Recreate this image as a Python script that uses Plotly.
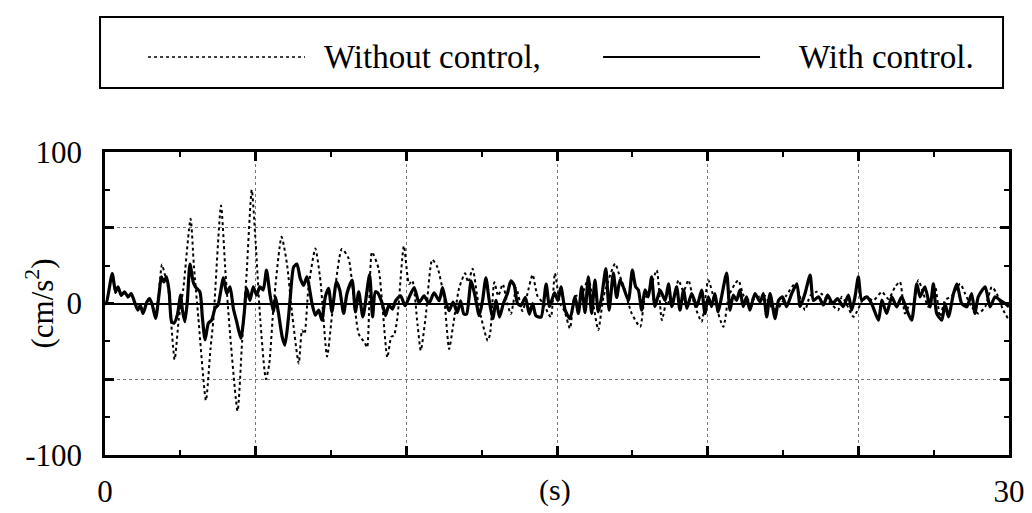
import plotly.graph_objects as go

# Floor acceleration response (cm/s^2) against time (s)
t_without = [0.0, 0.04, 0.24, 0.35, 0.43, 0.54, 0.65, 0.76, 0.87, 0.98, 1.09, 1.17, 1.26, 1.39, 1.48,
             1.57, 1.68, 1.79, 1.89, 2.0, 2.10, 2.31, 2.45, 2.60, 2.84, 2.95, 3.10, 3.35, 3.50, 3.60,
             3.85, 4.0, 4.15, 4.40, 4.55, 4.70, 4.87, 5.0, 5.15, 5.34, 5.45, 5.60, 5.86, 6.04, 6.20,
             6.43, 6.54, 6.62, 6.75, 6.98, 7.15, 7.37, 7.55, 7.86, 8.08, 8.22, 8.42, 8.62, 8.70, 8.86,
             9.08, 9.20, 9.37, 9.50, 9.59, 9.70, 9.92, 10.09, 10.20, 10.37, 10.48, 10.64, 10.86, 11.03,
             11.25, 11.42, 11.55, 11.75, 11.95, 12.05, 12.20, 12.35, 12.48, 12.70, 12.78, 12.92, 13.05,
             13.20, 13.35, 13.47, 13.65, 13.85, 14.0, 14.19, 14.35, 14.55, 14.71, 14.80, 14.93, 15.10,
             15.25, 15.43, 15.60, 15.80, 16.04, 16.20, 16.37, 16.55, 16.93, 17.05, 17.20, 17.48, 17.76,
             17.90, 18.10, 18.31, 18.48, 18.65, 18.80, 19.03, 19.20, 19.36, 19.55, 19.80, 20.02, 20.25,
             20.52, 20.70, 20.91, 21.02, 21.20, 21.40, 21.70, 21.90, 22.10, 22.30, 22.60, 22.90, 23.05,
             23.23, 23.40, 23.62, 23.80, 24.0, 24.33, 24.45, 24.60, 24.84, 25.22, 25.50, 25.78, 26.0,
             26.22, 26.38, 26.55, 26.72, 26.82, 26.99, 27.33, 27.55, 27.71, 27.88, 28.10, 28.38, 28.54,
             28.76, 28.98, 29.21, 29.43, 29.59, 29.81, 30.0]
a_without = [0, 0, 19, 7, 10, 5, 7, 4, 6, 1, -4, -1, -6, 1, 3,
             -1, -9, 8, 25.7, 18, 10, -37, -10, 10, 56, 25, -10, -64, -30, -10,
             64.7, 20, -20, -71, -25, 20, 75, 40, -10, -50, -40, 0, 44, 26, -5,
             -39.6, -17.6, -20, 10, 36.3, 15, -35, -5, 36, 30, 10, -20, -26, -29, 34,
             23, 0, -35.6, -22, -21, -10, 38, 12.8, 15, -13.6, -31, -9, 29, 24,
             4, -30, -15, 10, 20, 14, 23, 5, -9, -24.6, -20, 14, 5,
             12.8, 0, -7, 10, -5, 5, 19, 5, 0, -6.6, -9, 20, 0,
             -5, -16.5, 5, 5, 16.5, 0, -17.6, 5, 26.4, 20, 12, -6.6, -15.4,
             2, 10, 22, -11, 2, -2, 15.4, 8, 15.4, 0, -12, 15.4, 0,
             -15.4, 5, 13, 15.4, 5, 2, 4.4, 5, -2, -4, 5, 13, 5,
             -4.4, 5, 7.7, 6, 2, -4.4, 4.4, 0, -8.8, 4.4, 2, 7.7, 3,
             11, 14.3, -6.6, 0, -2.2, 15.4, -2.2, 11, -8.8, 2.2, 5, 13, 6.6,
             -2.2, -6.6, -2.2, 11, 6.6, -4.4, -11]

t_with = [0.0, 0.04, 0.24, 0.35, 0.43, 0.54, 0.65, 0.76, 0.87, 0.98, 1.09, 1.17, 1.26, 1.39, 1.48,
          1.57, 1.68, 1.79, 1.87, 1.95, 2.04, 2.13, 2.21, 2.29, 2.40, 2.51, 2.57, 2.65, 2.73, 2.82,
          2.93, 3.0, 3.15, 3.23, 3.32, 3.43, 3.54, 3.65, 3.75, 3.93, 4.04, 4.15, 4.26, 4.37, 4.51,
          4.62, 4.70, 4.81, 4.92, 5.03, 5.14, 5.25, 5.36, 5.47, 5.59, 5.66, 5.75, 5.88, 5.97, 6.08,
          6.14, 6.26, 6.37, 6.48, 6.59, 6.70, 6.87, 6.98, 7.09, 7.20, 7.31, 7.42, 7.53, 7.68, 7.79,
          7.92, 8.03, 8.20, 8.31, 8.42, 8.56, 8.78, 8.88, 8.97, 9.05, 9.20, 9.31, 9.42, 9.54, 9.65,
          9.81, 9.96, 10.09, 10.26, 10.42, 10.59, 10.75, 10.92, 11.09, 11.20, 11.31, 11.42, 11.55,
          11.69, 11.80, 11.91, 12.0, 12.15, 12.28, 12.42, 12.53, 12.64, 12.75, 12.87, 12.98, 13.09,
          13.22, 13.36, 13.47, 13.58, 13.69, 13.80, 13.95, 14.08, 14.19, 14.30, 14.47, 14.64, 14.75,
          14.92, 15.03, 15.13, 15.27, 15.43, 15.60, 15.71, 15.82, 15.93, 16.04, 16.15, 16.26, 16.37,
          16.48, 16.62, 16.73, 16.87, 16.98, 17.09, 17.20, 17.37, 17.50, 17.61, 17.70, 17.81, 17.92,
          18.03, 18.14, 18.25, 18.42, 18.59, 18.70, 18.81, 18.97, 19.08, 19.20, 19.31, 19.47, 19.64,
          19.80, 19.91, 20.02, 20.13, 20.24, 20.35, 20.46, 20.63, 20.74, 20.85, 20.96, 21.07, 21.18,
          21.29, 21.40, 21.57, 21.74, 21.85, 21.96, 22.07, 22.24, 22.35, 22.48, 22.62, 22.79, 22.96,
          23.07, 23.23, 23.40, 23.51, 23.68, 23.84, 23.98, 24.15, 24.31, 24.50, 24.67, 24.78, 24.89,
          25.0, 25.11, 25.28, 25.44, 25.67, 25.78, 25.94, 26.11, 26.27, 26.44, 26.61, 26.77, 26.94,
          27.05, 27.21, 27.38, 27.49, 27.60, 27.77, 27.88, 27.99, 28.16, 28.27, 28.43, 28.60, 28.76,
          28.87, 28.98, 29.21, 29.37, 29.54, 29.70, 29.87, 30.0]
a_with = [0, 0, 19.8, 7.7, 11, 5.5, 7.7, 4.4, 6.6, 1, -4.4, -1, -6.6, 1, 3.3,
          -1, -9.9, 5.5, 17.6, 14.3, 17.6, 7.7, -12, -13, -7.7, 5.5, -4.4, -12, 1, 26,
          14, 11, 7.7, -8.8, -24, -13, -11, -3.3, -1, 17, 6.6, 11, -3.3, -12, -23,
          -6.6, 10, 2, 11, 5.5, 11, 9, 22, 6.6, -5.5, 4.4, -5.5, -22, -27.5, -11,
          2, 24, 26, 16.5, 12, 17.6, 0, -7.7, -4.4, -11, 4.4, 10, -5.5, 14.3, 9,
          -6.6, 6.6, 15.4, -5.5, 7.7, -8.8, 19, -8.8, 7.7, 7, 0, -8, -1, -3.7, 2,
          5, -1.5, 4, 10.5, 0.7, 5, 0, 7, 1.8, 10.5, 1, -4.8, 1,
          -6, 1.8, -7, -7, 15, 5, -8, 2, 17, 2, -10, 2, -9,
          0, 7, 15, 12, 0, -1.5, 4, -7, 0, -8, -9, 12.8, -2,
          7, 2, 11, -4.4, -10, 4.4, -6.6, 11, -6, 17.6, -6.6, 15.4, -5.5,
          4, 23, -4.4, 20, 4, 15.4, 11, 2, 22, 11, 9, -4.4, 9,
          4.4, 17.6, -2, 8.8, 2, 13, -2, 11, -4.4, 8.8, -3.3, 6.6, -2,
          8.8, -6.6, 4.4, -2, 6.6, -5.5, 4.4, 20, -4.4, 5.5, 2, 8.8, -2,
          4.4, -4.4, 6.6, 1, 6.6, -8.8, 6.6, -10, 2, 4.4, -2, 6.6, 13,
          -2, 6.6, 18.7, 2, 4.4, -1, 5.5, 0, 3.3, -2, 5.5, -4.4, 4.4,
          17.6, 2.2, 4.4, 0, -11, 2.2, -6.6, 4.4, -2.2, 4.4, -4.4, -11, 13,
          4.4, 11, -2.2, 13, -6.6, -11, 0, -8.8, 6.6, 13, 0, -2.2, 6.6,
          -6.6, 4.4, 11, -2.2, 4.4, 2.2, 0, -2.2]

x_tickvals = [0, 5, 10, 15, 20, 25, 30]
x_ticktext = ["0", "", "", "", "", "", "30"]
y_tickvals = [-100, -50, 0, 50, 100]
y_ticktext = ["-100", "", "0", "", "100"]

serif = "Liberation Serif"

fig = go.Figure()
fig.add_trace(go.Scatter(
    x=t_without, y=a_without, mode="lines", name="Without control",
    line=dict(color="black", width=2, dash="dot", shape="spline", smoothing=0.6),
))
fig.add_trace(go.Scatter(
    x=t_with, y=a_with, mode="lines", name="With control",
    line=dict(color="black", width=3.2, shape="spline", smoothing=0.6),
))

axis_common = dict(
    showline=True, linecolor="black", linewidth=2.5, mirror="ticks",
    ticks="inside", ticklen=9, tickwidth=2.5, tickcolor="black",
    showgrid=True, gridcolor="#777777", gridwidth=1, griddash="dot",
    tickfont=dict(family=serif, size=31, color="black"),
    automargin=False,
)

fig.update_xaxes(
    range=[0, 30], tickmode="array", tickvals=x_tickvals, ticktext=x_ticktext,
    zeroline=False, ticklabelstandoff=7,
    minor=dict(dtick=2.5, tick0=0, ticks="inside", ticklen=5, tickwidth=2, tickcolor="black", showgrid=False),
    **axis_common,
)
fig.update_yaxes(
    range=[-100, 100], tickmode="array", tickvals=y_tickvals, ticktext=y_ticktext,
    zeroline=True, zerolinecolor="black", zerolinewidth=2, ticklabelstandoff=14,
    minor=dict(dtick=25, tick0=0, ticks="inside", ticklen=5, tickwidth=2, tickcolor="black", showgrid=False),
    **axis_common,
)

# Legend panel above the plot
legend_y = 1.3135
shapes = [
    dict(type="rect", xref="paper", yref="paper", x0=-0.0055, x1=0.9934, y0=1.2112, y1=1.4455,
         line=dict(color="black", width=2)),
    dict(type="line", xref="paper", yref="paper", x0=0.0476, x1=0.2212, y0=legend_y, y1=legend_y,
         line=dict(color="black", width=1.5, dash="dot")),
    dict(type="line", xref="paper", yref="paper", x0=0.551, x1=0.7246, y0=legend_y, y1=legend_y,
         line=dict(color="black", width=2)),
]
annotations = [
    dict(text="Without control,", xref="paper", yref="paper", x=0.240, y=legend_y,
         xanchor="left", yanchor="middle", showarrow=False,
         font=dict(family=serif, size=33, color="black")),
    dict(text="With control.", xref="paper", yref="paper", x=0.7655, y=legend_y,
         xanchor="left", yanchor="middle", showarrow=False,
         font=dict(family=serif, size=33, color="black")),
    dict(text="(s)", xref="paper", yref="paper", x=0.4978, y=-0.1155,
         xanchor="center", yanchor="middle", showarrow=False,
         font=dict(family=serif, size=30, color="black")),
    dict(text="(cm/s<sup>2</sup>)", xref="paper", yref="paper", x=-0.0719, y=0.5,
         xanchor="center", yanchor="middle", textangle=-90, showarrow=False,
         font=dict(family=serif, size=31, color="black")),
]

fig.update_layout(
    width=1032, height=513,
    margin=dict(l=105, r=23, t=152, b=58),
    paper_bgcolor="white", plot_bgcolor="white",
    showlegend=False,
    shapes=shapes, annotations=annotations,
)

fig.write_html("out.html")
